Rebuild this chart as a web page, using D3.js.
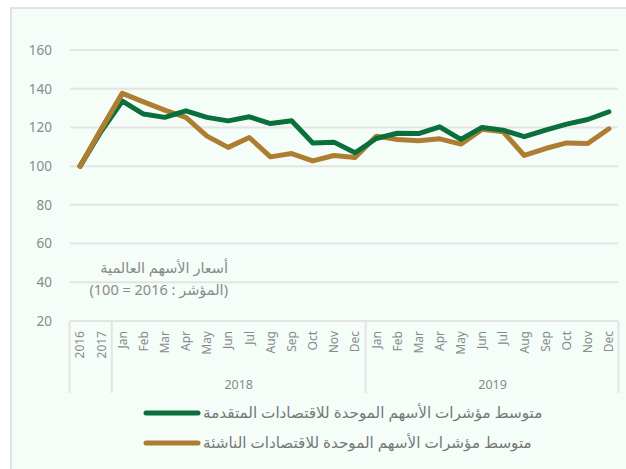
<!DOCTYPE html>
<html>
<head>
<meta charset="utf-8">
<script src="https://cdn.jsdelivr.net/npm/d3@7"></script>
<style>
  body { margin: 0; background: #fff; }
  svg text { font-family: "Noto Sans", "DejaVu Sans", sans-serif; fill: #8a8a8a; }
</style>
</head>
<body>
<svg id="chart" width="626" height="469"></svg>
<script>
// categories along x
var periods = ["2016", "2017",
  "Jan", "Feb", "Mar", "Apr", "May", "Jun", "Jul", "Aug", "Sep", "Oct", "Nov", "Dec",
  "Jan", "Feb", "Mar", "Apr", "May", "Jun", "Jul", "Aug", "Sep", "Oct", "Nov", "Dec"];
var years = [
  { label: "2018", from: 2, to: 13 },
  { label: "2019", from: 14, to: 25 }
];

// series values (index 2016 = 100)
var advanced = [100, 118, 133.6, 126.9, 125.2, 128.6, 125.2, 123.4, 125.5, 122, 123.4, 112, 112.4,
  106.9, 114.3, 117, 116.8, 120.3, 113.8, 120, 118.6, 115.2, 118.6, 121.7, 124.1, 128.1];
var emerging = [100, 119, 137.6, 133.2, 128.9, 125.2, 115.5, 109.7, 114.8, 104.8, 106.5, 102.7, 105.5,
  104.5, 115.5, 113.8, 113.1, 114.1, 111.4, 119, 117.7, 105.5, 109.1, 112, 111.7, 119.3];

var yTicks = [20, 40, 60, 80, 100, 120, 140, 160];

var seriesNames = [
  "متوسط مؤشرات الأسهم الموحدة للاقتصادات المتقدمة",
  "متوسط مؤشرات الأسهم الموحدة للاقتصادات الناشئة"
];
var seriesColors = ["#0a6f3a", "#ad7e31"];
var noteLines = ["أسعار الأسهم العالمية", "(المؤشر : 2016 = 100)"];

var svg = d3.select("#chart");

// frame
svg.append("rect")
  .attr("x", 11).attr("y", 8)
  .attr("width", 640).attr("height", 480)
  .attr("fill", "#f4fdf8")
  .attr("stroke", "#e2e2e2")
  .attr("stroke-width", 2);

var x = d3.scaleBand()
  .domain(d3.range(periods.length))
  .range([69.5, 619.5]);

var y = d3.scaleLinear()
  .domain([20, 160])
  .range([321, 50]);

var gridColor = "#e6e3e3";

// gridlines + y labels
var yAxis = svg.append("g");
yAxis.selectAll("line")
  .data(yTicks)
  .enter().append("line")
  .attr("x1", 70).attr("x2", 618)
  .attr("y1", d => y(d)).attr("y2", d => y(d))
  .attr("stroke", gridColor)
  .attr("stroke-width", 2);

yAxis.selectAll("text")
  .data(yTicks)
  .enter().append("text")
  .attr("x", 52)
  .attr("y", d => y(d))
  .attr("dy", "0.36em")
  .attr("text-anchor", "end")
  .style("font-size", "13.5px")
  .text(d => d);

// x axis: separators
var xAxis = svg.append("g");
var seps = [0, 2, 14, periods.length];
xAxis.selectAll("line.sep")
  .data(seps)
  .enter().append("line")
  .attr("class", "sep")
  .attr("x1", d => d < periods.length ? x(d) : x.range()[1] - 1)
  .attr("x2", d => d < periods.length ? x(d) : x.range()[1] - 1)
  .attr("y1", 321).attr("y2", 393)
  .attr("stroke", gridColor)
  .attr("stroke-width", 2);

xAxis.selectAll("text.cat")
  .data(periods)
  .enter().append("text")
  .attr("class", "cat")
  .attr("transform", (d, i) => "translate(" + (x(i) + x.bandwidth() / 2) + ",331) rotate(-90)")
  .attr("dy", "0.36em")
  .attr("text-anchor", "end")
  .style("font-size", "12px")
  .text(d => d);

xAxis.selectAll("text.year")
  .data(years)
  .enter().append("text")
  .attr("class", "year")
  .attr("x", d => (x(d.from) + x(d.to) + x.bandwidth()) / 2)
  .attr("y", 384)
  .attr("dy", "0.36em")
  .attr("text-anchor", "middle")
  .style("font-size", "12.5px")
  .text(d => d.label);

// lines
var line = d3.line()
  .x((d, i) => x(i) + x.bandwidth() / 2)
  .y(d => y(d));

[emerging, advanced].forEach(function(s, k) {
  svg.append("path")
    .datum(s)
    .attr("d", line)
    .attr("fill", "none")
    .attr("stroke", k === 0 ? seriesColors[1] : seriesColors[0])
    .attr("stroke-width", 5)
    .attr("stroke-linejoin", "round")
    .attr("stroke-linecap", "round");
});
// gold drawn on top where they cross near the start
svg.append("path")
  .datum(emerging.slice(0, 3))
  .attr("d", line)
  .attr("fill", "none")
  .attr("stroke", seriesColors[1])
  .attr("stroke-width", 5)
  .attr("stroke-linecap", "round");

// note
svg.selectAll("text.note")
  .data(noteLines)
  .enter().append("text")
  .attr("class", "note")
  .attr("x", 228)
  .attr("y", (d, i) => 268 + i * 22)
  .attr("dy", "0.36em")
  .attr("text-anchor", "start")
  .attr("direction", "rtl")
  .style("font-size", "14.5px")
  .text(d => d);

// legend
var legend = svg.selectAll("g.legend")
  .data(seriesNames)
  .enter().append("g")
  .attr("class", "legend")
  .attr("transform", (d, i) => "translate(0," + (413 + i * 30) + ")");

legend.append("line")
  .attr("x1", 146).attr("x2", 198)
  .attr("stroke", (d, i) => seriesColors[i])
  .attr("stroke-width", 5)
  .attr("stroke-linecap", "round");

legend.append("text")
  .attr("x", 203)
  .attr("dy", "0.36em")
  .attr("text-anchor", "start")
  .style("font-size", "15.2px")
  .style("fill", "#777")
  .text(d => d);
</script>
</body>
</html>
